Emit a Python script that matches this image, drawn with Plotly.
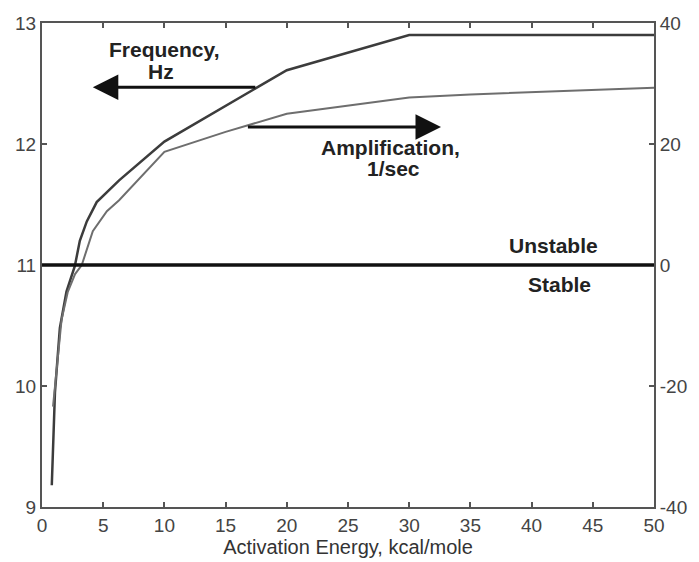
import plotly.graph_objects as go

# Activation energy (kcal/mole) and the resulting oscillation frequency (Hz)
freq_energy = [0.8, 1.06, 1.46, 2.0, 2.68, 3.09, 3.66, 4.47, 6.3, 10, 20, 30, 50]
frequency_hz = [9.18, 9.95, 10.48, 10.78, 10.99, 11.2, 11.36, 11.52, 11.7, 12.02, 12.61, 12.9, 12.9]

# Activation energy and the amplification rate (1/sec)
amp_energy = [0.9, 1.2, 1.6, 2.1, 2.7, 3.25, 3.5, 4.15, 5.3, 6.3, 10, 15, 20, 30, 35, 40, 45, 50]
amplification = [-23.4, -17, -9, -4.5, -1.5, 0, 1.6, 5.6, 8.9, 10.7, 18.7, 22, 25, 27.7, 28.2, 28.6, 29, 29.3]

x_ticks = [0, 5, 10, 15, 20, 25, 30, 35, 40, 45, 50]
left_ticks = [9, 10, 11, 12, 13]
right_ticks = [-40, -20, 0, 20, 40]

FONT = "Liberation Sans, Arial, sans-serif"
AXIS_COLOR = "#555555"
TICK_FONT = dict(family=FONT, size=19, color="#444444")

fig = go.Figure()

fig.add_trace(go.Scatter(
    x=freq_energy, y=frequency_hz, mode="lines",
    line=dict(color="#3c3c3c", width=2.5), yaxis="y", showlegend=False,
))
fig.add_trace(go.Scatter(
    x=amp_energy, y=amplification, mode="lines",
    line=dict(color="#6e6e6e", width=2), yaxis="y2", showlegend=False,
))

# Neutral-stability line (11 Hz on the left scale, 0 1/sec on the right)
fig.add_shape(type="line", xref="x", yref="y2", x0=0, x1=50, y0=0, y1=0,
              line=dict(color="#111111", width=3.5))

bold = dict(family=FONT, size=21, color="#222222")

# Arrows pointing to the axis each curve belongs to
fig.add_annotation(x=4.15, y=12.47, ax=17.55, ay=12.47, xref="x", yref="y",
                   axref="x", ayref="y", text="", showarrow=True,
                   arrowhead=2, arrowsize=1.7, arrowwidth=3, arrowcolor="#111111")
fig.add_annotation(x=32.6, y=12.14, ax=16.7, ay=12.14, xref="x", yref="y",
                   axref="x", ayref="y", text="", showarrow=True,
                   arrowhead=2, arrowsize=1.7, arrowwidth=3, arrowcolor="#111111")

# Curve labels, one annotation per text line for tight line spacing
labels = [
    ("Frequency,", 10.0, 12.779),
    ("Hz", 9.76, 12.598),
    ("Amplification,", 28.46, 11.975),
    ("1/sec", 28.7, 11.795),
    ("Unstable", 41.8, 11.164),
    ("Stable", 42.3, 10.836),
]
for text, lx, ly in labels:
    fig.add_annotation(x=lx, y=ly, xref="x", yref="y", text="<b>" + text + "</b>",
                       showarrow=False, font=bold, align="center")

fig.update_layout(
    width=699, height=562,
    margin=dict(l=42, r=40, t=23, b=51),
    paper_bgcolor="white", plot_bgcolor="white",
    xaxis=dict(
        range=[0, 50], tickvals=x_ticks, ticktext=[str(v) for v in x_ticks],
        showline=True, linecolor=AXIS_COLOR, linewidth=2, mirror="ticks",
        ticks="inside", ticklen=5, tickcolor=AXIS_COLOR, tickwidth=1.5,
        showgrid=False, zeroline=False, tickfont=TICK_FONT,
        title=dict(text="Activation Energy, kcal/mole", standoff=0,
                   font=dict(family=FONT, size=20, color="#333333")),
    ),
    yaxis=dict(
        range=[9, 13], tickvals=left_ticks, ticktext=[str(v) for v in left_ticks],
        showline=True, linecolor=AXIS_COLOR, linewidth=2,
        ticks="inside", ticklen=5, tickcolor=AXIS_COLOR, tickwidth=1.5,
        showgrid=False, zeroline=False, tickfont=TICK_FONT,
    ),
    yaxis2=dict(
        range=[-40, 40], tickvals=right_ticks, ticktext=[str(v) for v in right_ticks],
        overlaying="y", side="right",
        showline=True, linecolor=AXIS_COLOR, linewidth=2,
        ticks="inside", ticklen=5, tickcolor=AXIS_COLOR, tickwidth=1.5,
        showgrid=False, zeroline=False, tickfont=TICK_FONT,
    ),
)

fig.write_html("out.html")
